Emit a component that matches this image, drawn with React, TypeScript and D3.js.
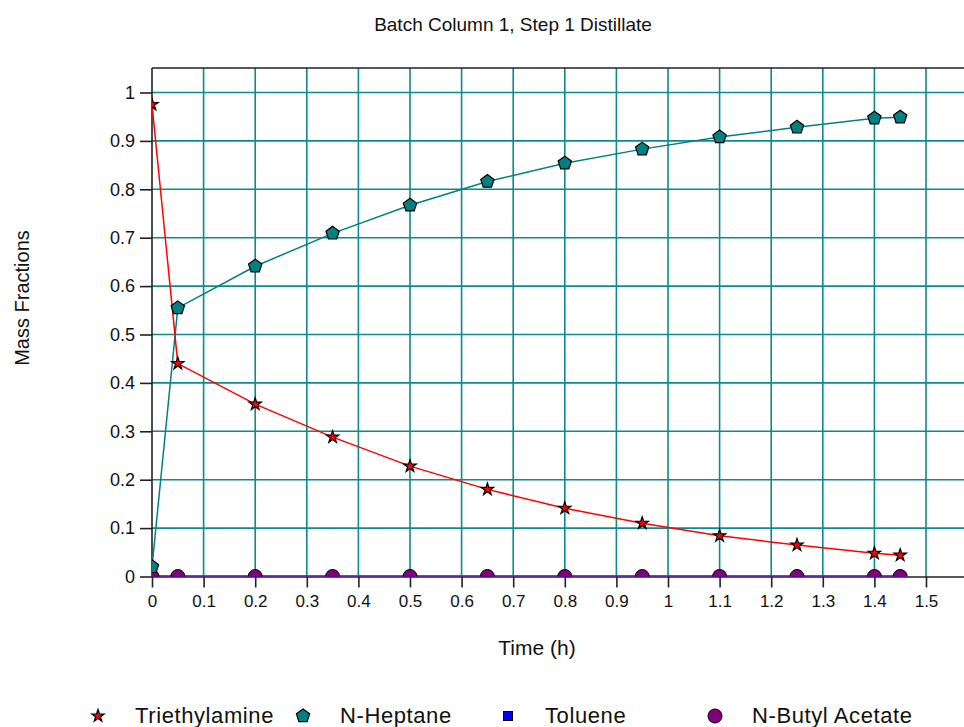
import React, { useEffect, useRef } from 'react';
import * as d3 from 'd3';

// sample times (h)
const times = [0, 0.05, 0.2, 0.35, 0.5, 0.65, 0.8, 0.95, 1.1, 1.25, 1.4, 1.45];
const triethylamine = [0.975, 0.44, 0.356, 0.288, 0.228, 0.18, 0.141, 0.11, 0.084, 0.065, 0.048, 0.044];
const nHeptane = [0.02, 0.555, 0.641, 0.709, 0.767, 0.816, 0.854, 0.883, 0.908, 0.928, 0.947, 0.949];
const toluene = [0, 0, 0, 0, 0, 0, 0, 0, 0, 0, 0, 0];
const nButylAcetate = [0, 0, 0, 0, 0, 0, 0, 0, 0, 0, 0, 0];

const xTicks = [0, 0.1, 0.2, 0.3, 0.4, 0.5, 0.6, 0.7, 0.8, 0.9, 1, 1.1, 1.2, 1.3, 1.4, 1.5];
const yTicks = [0, 0.1, 0.2, 0.3, 0.4, 0.5, 0.6, 0.7, 0.8, 0.9, 1];

const FONT = '"Liberation Sans", Arial, sans-serif';
const TEAL = '#0b8c8c';

function pentagon(r: number) {
  const pts = d3.range(5).map(i => {
    const a = -Math.PI / 2 + (i * 2 * Math.PI) / 5;
    return [r * Math.cos(a), r * Math.sin(a)];
  });
  return 'M' + pts.map(p => p.join(',')).join('L') + 'Z';
}

function drawMarker(g: any, kind: string, x: number, y: number) {
  if (kind === 'star') {
    g.append('path')
      .attr('d', d3.symbol(d3.symbolStar, 48)())
      .attr('transform', `translate(${x},${y})`)
      .attr('fill', '#ff0000').attr('stroke', '#000').attr('stroke-width', 1.2);
  } else if (kind === 'pentagon') {
    g.append('path')
      .attr('d', pentagon(7))
      .attr('transform', `translate(${x},${y})`)
      .attr('fill', '#008080').attr('stroke', '#000').attr('stroke-width', 1.2);
  } else if (kind === 'square') {
    g.append('rect')
      .attr('x', x - 4.5).attr('y', y - 4.5).attr('width', 9).attr('height', 9)
      .attr('fill', '#0000ff').attr('stroke', '#000').attr('stroke-width', 1);
  } else {
    g.append('circle')
      .attr('cx', x).attr('cy', y).attr('r', 7)
      .attr('fill', '#800080').attr('stroke', '#000').attr('stroke-width', 1);
  }
}

export default function App() {
  const ref = useRef<SVGSVGElement>(null);

  useEffect(() => {
    const svg = d3.select(ref.current);
    svg.selectAll('*').remove();

    const left = 152, top = 68, bottom = 576.5;
    const x = d3.scaleLinear().domain([0, 1.6]).range([left, left + 516 * 1.6]);
    const y = d3.scaleLinear().domain([0, 1.05]).range([bottom, bottom - 484 * 1.05]);
    const right = x(1.6);

    svg.append('defs').append('clipPath').attr('id', 'plotClip')
      .append('rect').attr('x', left).attr('y', top).attr('width', right - left).attr('height', bottom - top);

    // grid
    const grid = svg.append('g');
    grid.selectAll('line.v').data(x.ticks(16).slice(1)).join('line')
      .attr('class', 'v')
      .attr('x1', d => x(d)).attr('x2', d => x(d)).attr('y1', top).attr('y2', bottom)
      .attr('stroke', TEAL).attr('stroke-width', 1.6);
    grid.selectAll('line.h').data(yTicks.slice(1)).join('line')
      .attr('class', 'h')
      .attr('x1', left).attr('x2', right).attr('y1', d => y(d)).attr('y2', d => y(d))
      .attr('stroke', TEAL).attr('stroke-width', 1.6);

    // frame
    svg.append('line').attr('x1', left).attr('x2', right).attr('y1', top).attr('y2', top)
      .attr('stroke', '#222').attr('stroke-width', 1.6);

    // axes
    const xAxis = svg.append('g')
      .attr('transform', `translate(0,${bottom})`)
      .call(d3.axisBottom(x).tickValues(xTicks).tickSize(11).tickSizeOuter(0).tickFormat(d => d3.format('~g')(+d)));
    xAxis.select('.domain').attr('stroke', '#222').attr('stroke-width', 1.6);
    xAxis.selectAll('.tick line').attr('stroke', '#222').attr('stroke-width', 1.6);
    xAxis.selectAll('.tick text').attr('font-family', FONT).attr('font-size', 17).attr('fill', '#111').attr('dy', '0.95em');

    const yAxis = svg.append('g')
      .attr('transform', `translate(${left},0)`)
      .call(d3.axisLeft(y).tickValues(yTicks).tickSize(12).tickSizeOuter(0).tickFormat(d => d3.format('~g')(+d)));
    yAxis.select('.domain').attr('stroke', '#222').attr('stroke-width', 1.6).attr('d', `M0,${bottom}V${top}`);
    yAxis.selectAll('.tick line').attr('stroke', '#222').attr('stroke-width', 1.6);
    yAxis.selectAll('.tick text').attr('font-family', FONT).attr('font-size', 18).attr('fill', '#111').attr('x', -17);

    // series
    const series = [
      { name: 'Triethylamine', values: triethylamine, color: '#ff0000', width: 1.5, marker: 'star' },
      { name: 'N-Heptane', values: nHeptane, color: '#008080', width: 1.5, marker: 'pentagon' },
      { name: 'Toluene', values: toluene, color: '#0000ff', width: 2, marker: 'square' },
      { name: 'N-Butyl Acetate', values: nButylAcetate, color: '#8a2a8a', width: 2.5, marker: 'circle' },
    ];

    const plot = svg.append('g').attr('clip-path', 'url(#plotClip)');
    const line = d3.line<number>().x((d, i) => x(times[i])).y(d => y(d));
    // draw bottom series first so N-Butyl Acetate ends on top
    [2, 3, 1, 0].forEach(si => {
      const s = series[si];
      plot.append('path').attr('d', line(s.values)).attr('fill', 'none')
        .attr('stroke', s.color).attr('stroke-width', s.width);
    });
    [2, 3, 1, 0].forEach(si => {
      const s = series[si];
      s.values.forEach((v, i) => drawMarker(plot, s.marker, x(times[i]), y(v)));
    });

    // titles
    svg.append('text').attr('x', 513).attr('y', 31).attr('text-anchor', 'middle')
      .attr('font-family', FONT).attr('font-size', 19).attr('fill', '#111')
      .text('Batch Column 1, Step 1 Distillate');
    svg.append('text').attr('x', 537).attr('y', 655).attr('text-anchor', 'middle')
      .attr('font-family', FONT).attr('font-size', 21).attr('fill', '#111')
      .text('Time (h)');
    svg.append('text').attr('transform', 'translate(29,298) rotate(-90)').attr('text-anchor', 'middle')
      .attr('font-family', FONT).attr('font-size', 20).attr('fill', '#111')
      .text('Mass Fractions');

    // legend
    const legendX = [98, 303, 508, 715];
    const legend = svg.append('g');
    series.forEach((s, i) => {
      drawMarker(legend, s.marker, legendX[i], 716);
      legend.append('text').attr('x', legendX[i] + 37).attr('y', 723)
        .attr('font-family', FONT).attr('font-size', 22).attr('letter-spacing', 0.6).attr('fill', '#111')
        .text(s.name);
    });
  }, []);

  return (
    <svg ref={ref} width={964} height={727}
      style={{ position: 'absolute', left: 0, top: 0, background: '#fff' }} />
  );
}
